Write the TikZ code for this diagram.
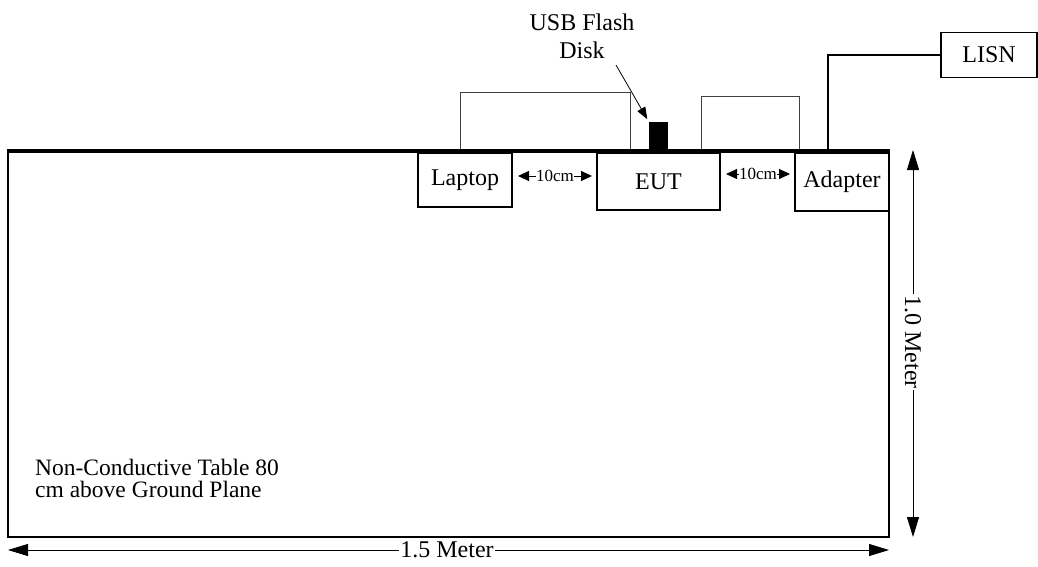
\documentclass[tikz,border=0pt]{standalone}
\usepackage{fontspec}
\setmainfont{Liberation Serif}
\usetikzlibrary{arrows.meta}
\begin{document}
\begin{tikzpicture}[x=1pt,y=-1pt,
  every node/.style={font=\fontsize{24}{26}\selectfont},
  table/.style={draw,line width=2.6pt,minimum width=881pt,minimum height=385pt,inner sep=0},
  box/.style={draw,line width=1.3pt,fill=white,inner sep=0},
  cable/.style={draw=black!75,line width=0.9pt},
  power/.style={line width=2.6pt},
  dim/.style={line width=0.9pt,{Triangle[length=20pt,width=12pt]}-{Triangle[length=20pt,width=12pt]}},
  gap/.style={line width=0.9pt,{Triangle[length=11pt,width=10pt]}-{Triangle[length=11pt,width=10pt]}},
  dimlabel/.style={fill=white,inner sep=1pt},
  gaplabel/.style={fill=white,inner sep=0.3pt,font=\fontsize{17}{18}\selectfont},
  pointer/.style={line width=0.8pt,-{Triangle[length=12pt,width=9pt]},shorten >=3pt}
]
\useasboundingbox (0,0) rectangle (1038,566);

% table
\node[table] (tbl) at (448.5,344.5) {};

% cables above the table (drawn before boxes)
\coordinate (lc1) at (460,152);
\coordinate (lc2) at (630,152);
\draw[cable] (lc1) -- (460,92) -- (630,92) -- (lc2);
\coordinate (ac1) at (701,152);
\coordinate (ac2) at (799,152);
\draw[cable] (ac1) -- (701,96) -- (799,96) -- (ac2);

% devices
\node[box,minimum width=94pt,minimum height=54pt] (lap) at (465,180) {Laptop};
\node[box,minimum width=123pt,minimum height=57pt] (eut) at (658.5,181.5) {EUT};
\node[box,minimum width=94pt,minimum height=58pt] (adp) at (842,182) {Adapter};
\node[box,minimum width=96pt,minimum height=45pt] (lisn) at (989,55) {LISN};
\node[fill=black,draw,inner sep=0,minimum width=18pt,minimum height=30pt] (usb) at (658,137) {};

% power line adapter -> LISN
\coordinate (pw) at (828,153);
\draw[power] (pw) |- (lisn.west);

% re-draw table top edge over box tops
\draw[line width=2.6pt] (tbl.north west) -- (tbl.north east);

% USB label
\node[align=center,font=\fontsize{24}{28}\selectfont] (usblabel) at (582,36) {USB Flash\\Disk};
\draw[pointer] (616,65) -- (usb.north west);

% 10 cm gaps
\draw[gap] (518,176) -- node[gaplabel] (g1) {10cm} (592,176);
\draw[gap] (726,174) -- node[gaplabel] (g2) {10cm} (790,174);

% table description
\node[anchor=north west,align=left,inner sep=0,font=\fontsize{23.5}{22}\selectfont] (desc) at (35,459) {Non-Conductive Table 80\\cm above Ground Plane};

% dimensions
\coordinate (h1) at (8,550);
\coordinate (h2) at (889,550);
\draw[dim] (h1) -- (h2);
\node[dimlabel] (hl) at (447,550) {1.5 Meter};
\coordinate (v1) at (913,150);
\coordinate (v2) at (913,537);
\draw[dim] (v1) -- (v2);
\node[dimlabel,rotate=-90] (vl) at (913,342) {1.0 Meter};
\end{tikzpicture}
\end{document}
